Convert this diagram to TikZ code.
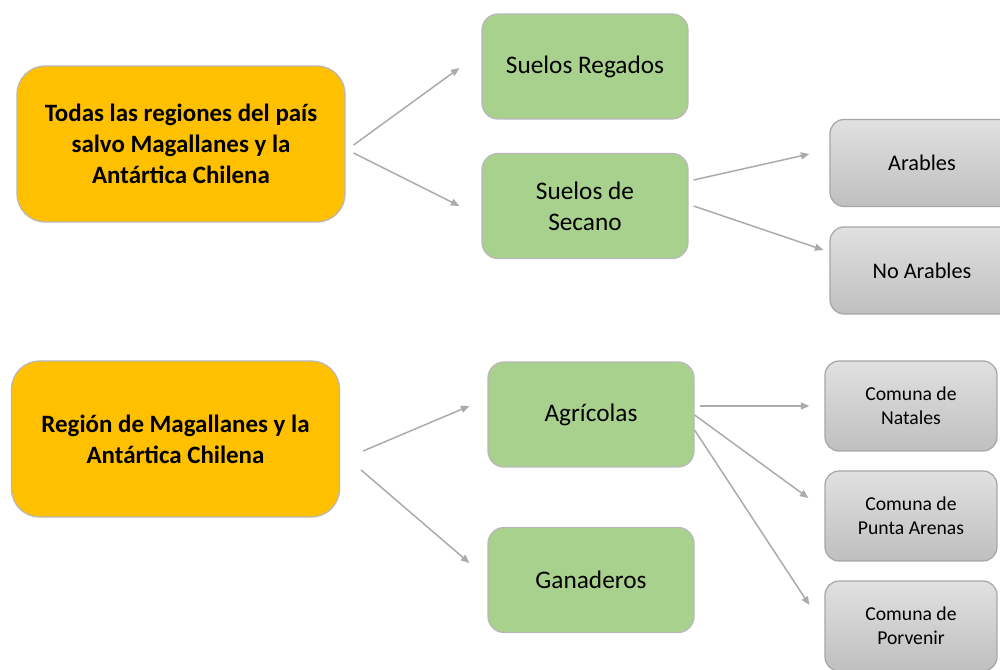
\documentclass[tikz,border=0pt]{standalone}
\usepackage{fontspec}
\setmainfont{Carlito}
\usetikzlibrary{positioning, arrows.meta}

\definecolor{regionfill}{HTML}{FFC000}
\definecolor{soilfill}{HTML}{A9D18E}
\definecolor{boxline}{HTML}{B8B8B8}
\definecolor{linkgray}{HTML}{ABABAB}

\tikzset{
    region/.style={draw=boxline, fill=regionfill, line width=0.7pt, rounded corners=0.56cm,
        minimum width=6.56cm, minimum height=3.12cm, align=center,
        font=\bfseries\fontsize{14.2}{17.6}\selectfont},
    soil/.style={draw=boxline, fill=soilfill, line width=0.7pt, rounded corners=0.32cm,
        minimum width=4.12cm, minimum height=2.1cm, align=center,
        font=\fontsize{14.4}{17.6}\selectfont},
    leaf/.style={draw=boxline!90!black, top color=black!12, bottom color=black!25, line width=0.7pt,
        rounded corners=0.28cm, minimum width=3.68cm, minimum height=1.74cm, align=center,
        font=\fontsize{12.7}{15}\selectfont},
    comuna/.style={leaf, minimum width=3.44cm, minimum height=1.8cm,
        font=\fontsize{11.2}{13.6}\selectfont},
    link/.style={->, draw=linkgray, line width=0.85pt},
}

\begin{document}
\begin{tikzpicture}[x=0.02cm, y=-0.02cm, >={Triangle[length=0.17cm, width=0.14cm]}]
    \clip (0,0) rectangle (1000,669);
    \fill[white] (0,0) rectangle (1000,669);

    \node[region] (todas) at (181,144) {Todas las regiones del país\\salvo Magallanes y la\\Antártica Chilena};
    \node[region] (magallanes) at (175.5,439) {Región de Magallanes y la\\Antártica Chilena};

    \node[soil] (regados) at (585,66.5) {Suelos Regados};
    \node[soil] (secano) at (585,206) {Suelos de\\Secano};
    \node[soil] (agricolas) at (591,414.5) {Agrícolas};
    \node[soil] (ganaderos) at (591,580) {Ganaderos};

    \node[leaf] (arables) at (922,163) {Arables};
    \node[leaf] (noarables) at (922,270.5) {No Arables};

    \node[comuna] (natales) at (911,406) {Comuna de\\Natales};
    \node[comuna] (puntaarenas) at (911,516) {Comuna de\\Punta Arenas};
    \node[comuna] (porvenir) at (911,626) {Comuna de\\Porvenir};

    \draw[link] ([shift={(8,1)}]todas.east) -- ([shift={(-22,1.5)}]regados.west);
    \draw[link] ([shift={(8,9)}]todas.east) -- ([shift={(-22,0)}]secano.west);
    \draw[link] ([shift={(5,-26)}]secano.east) -- ([shift={(-20,-9)}]arables.west);
    \draw[link] ([shift={(5,0)}]secano.east) -- ([shift={(-6,-20.5)}]noarables.west);

    \draw[link] ([shift={(23,12)}]magallanes.east) -- ([shift={(-18,-8.5)}]agricolas.west);
    \draw[link] ([shift={(21,31)}]magallanes.east) -- ([shift={(-18,-17)}]ganaderos.west);
    \draw[link] ([shift={(5,-8.5)}]agricolas.east) -- ([shift={(-15,0)}]natales.west);
    \draw[link] ([shift={(0,0.5)}]agricolas.east) -- ([shift={(-16,-18)}]puntaarenas.west);
    \draw[link] ([shift={(0,15.5)}]agricolas.east) -- ([shift={(-15,-21)}]porvenir.west);
\end{tikzpicture}
\end{document}
